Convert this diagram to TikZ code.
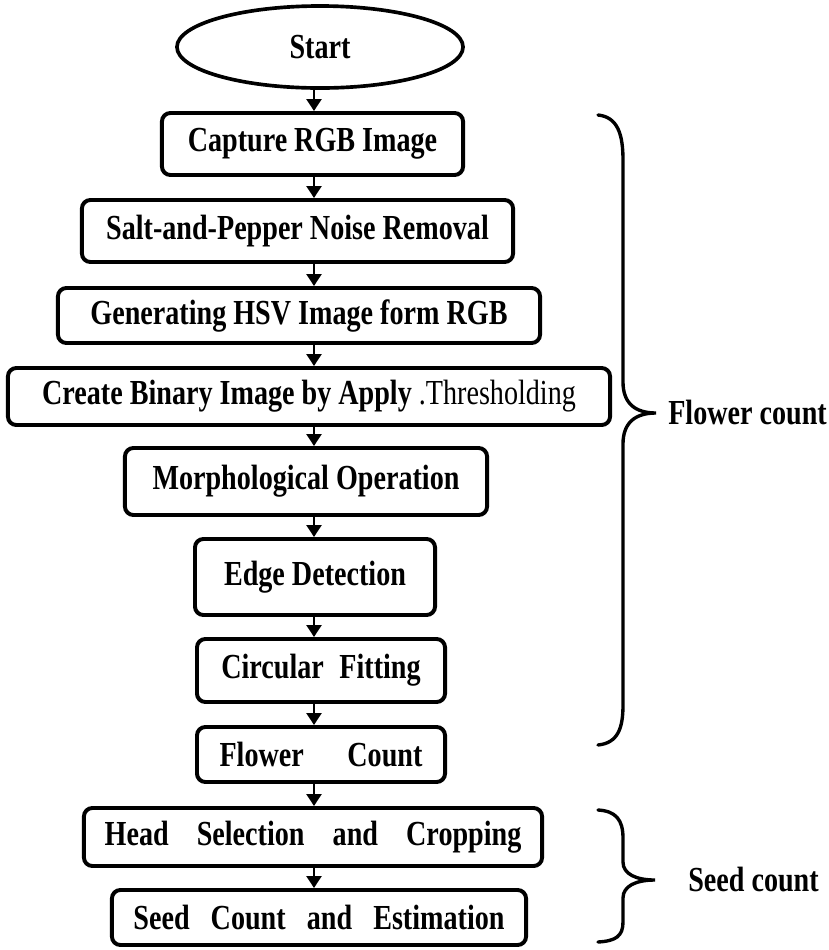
\documentclass[tikz,border=0pt]{standalone}
\usepackage{fontspec}
\setmainfont{Liberation Serif}[FakeStretch=0.8]
\usetikzlibrary{arrows.meta,shapes.geometric}

\newcommand{\wgap}[1]{\hspace{#1}}

\begin{document}
\begin{tikzpicture}[
    x=0.025cm, y=-0.025cm,
    >={Triangle[length=8.5pt,width=10.5pt]},
    box/.style={draw, line width=2.8pt, rounded corners=6pt, inner sep=0pt,
                font=\bfseries\fontsize{25}{30}\selectfont},
    terminal/.style={draw, ellipse, line width=2.6pt, inner sep=0pt,
                font=\bfseries\fontsize{25}{30}\selectfont},
    flow/.style={->, line width=2pt},
    brace/.style={line width=2.4pt, line cap=round},
    sidelabel/.style={font=\bfseries\fontsize{25}{30}\selectfont, inner sep=0pt}
]

\useasboundingbox (0,0) rectangle (829,950);

% Arrow column
\coordinate (ax) at (314,0);

% Flow chart
\node[terminal, minimum width=7.15cm, minimum height=2.05cm] (start) at (320,47) {Start};
\node[box, minimum width=7.525cm, minimum height=1.55cm] (capture) at (312.5,144) {Capture RGB Image};
\node[box, minimum width=10.775cm, minimum height=1.55cm] (salt) at (297.5,231) {Salt-and-Pepper Noise Removal};
\node[box, minimum width=12.05cm, minimum height=1.375cm] (hsv) at (299,315.5) {Generating HSV Image form RGB};
\node[box, minimum width=15.05cm, minimum height=1.425cm] (binary) at (309,396.5)
    {Create Binary Image by Apply {\mdseries .Thresholding}};
\node[box, minimum width=9.05cm, minimum height=1.675cm] (morph) at (306,481.5) {Morphological Operation};
\node[box, minimum width=6cm, minimum height=1.9cm] (edge) at (315,577) {Edge Detection};
\node[box, minimum width=6.2cm, minimum height=1.575cm] (circ) at (321,670.5) {Circular\wgap{6pt} Fitting};
\node[box, minimum width=6.2cm, minimum height=1.375cm] (fcount) at (321,754.5) {Flower\wgap{26pt} Count};
\node[box, minimum width=11.45cm, minimum height=1.45cm] (head) at (313,837)
    {Head\wgap{15pt} Selection\wgap{15pt} and\wgap{15pt} Cropping};
\node[box, minimum width=10.35cm, minimum height=1.375cm] (seed) at (319,917.5)
    {Seed\wgap{10pt} Count\wgap{10pt} and\wgap{10pt} Estimation};

% Connectors
\foreach \a/\b in {start/capture, capture/salt, salt/hsv, hsv/binary, binary/morph,
                   morph/edge, edge/circ, circ/fcount, fcount/head, head/seed}
    \draw[flow] (\a.south -| ax) -- (\b.north -| ax);

% Braces
\draw[brace] (598,115) .. controls (618,117) and (623,135) .. (623,160) -- (623,382)
    .. controls (623,404) and (636,413) .. (656,413)
    .. controls (636,413) and (623,422) .. (623,444) -- (623,705)
    .. controls (623,728) and (618,743) .. (598,745);
\draw[brace] (598,810) .. controls (616,811) and (623,820) .. (623,838) -- (623,862)
    .. controls (623,874) and (636,880) .. (655,880)
    .. controls (636,880) and (623,886) .. (623,898) -- (623,922)
    .. controls (623,936) and (616,941) .. (598,942);

% Labels
\node[sidelabel, anchor=west] (flabel) at (668,413) {Flower count};
\node[sidelabel, anchor=west] (slabel) at (688,880) {Seed count};

\end{tikzpicture}
\end{document}
